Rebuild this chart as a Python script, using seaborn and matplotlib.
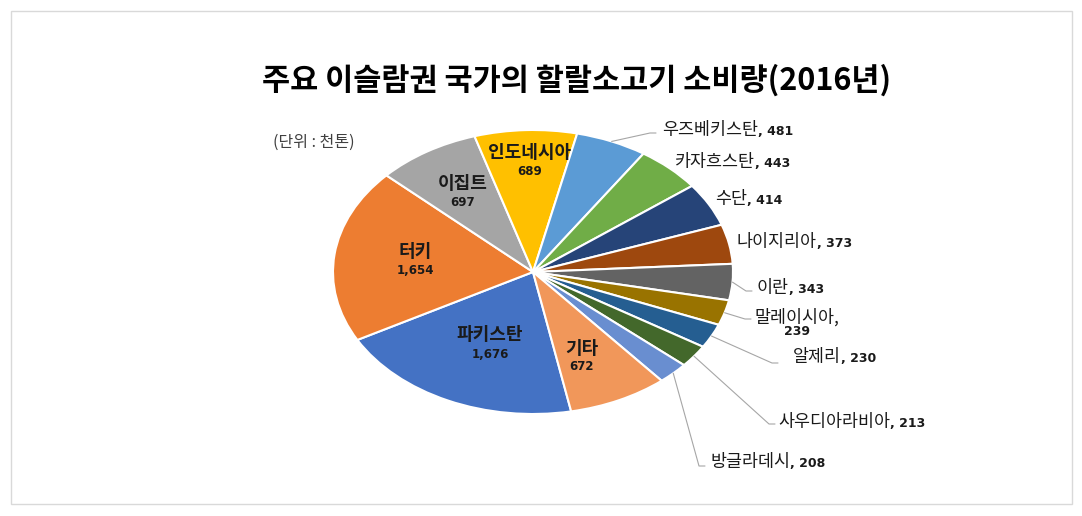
import matplotlib
matplotlib.use("Agg")
import matplotlib.pyplot as plt
import seaborn as sns
import numpy as np
from matplotlib.patches import Rectangle

# ---------------- data ----------------
countries = ["파키스탄", "터키", "이집트", "인도네시아", "우즈베키스탄", "카자흐스탄", "수단",
             "나이지리아", "이란", "말레이시아", "알제리", "사우디아라비아", "방글라데시", "기타"]
consumption = [1676, 1654, 697, 689, 481, 443, 414, 373, 343, 239, 230, 213, 208, 672]
title = "주요 이슬람권 국가의 할랄소고기 소비량(2016년)"
unit_note = "(단위 : 천톤)"

# ---------------- style ----------------
colors = ["#4472C4", "#ED7D31", "#A5A5A5", "#FFC000", "#5B9BD5", "#70AD47", "#264478",
          "#9E480E", "#636363", "#997300", "#255E91", "#43682B", "#698ED0", "#F1975A"]

sns.set_theme(style="white")
plt.rcParams['font.family'] = ['Noto Sans CJK KR', 'DejaVu Sans']

W, H = 1082, 516
fig = plt.figure(figsize=(W / 100, H / 100), dpi=100)
fig.patch.set_facecolor('white')
ax = fig.add_axes([0, 0, 1, 1])

# pie ellipse geometry in pixels
CX, CY, RX, RY = 533, 272, 200, 142


def P(px, py):
    return ((px - CX) / RX, (CY - py) / RY)


wedges, _ = ax.pie(consumption, colors=colors, startangle=-79, counterclock=False,
                   wedgeprops=dict(edgecolor='white', linewidth=1.5))
ax.set_aspect('auto')
ax.set_xlim(-CX / RX, (W - CX) / RX)
ax.set_ylim((CY - H) / RY, CY / RY)
ax.axis('off')

TXT = '#1a1a1a'
LINE = '#a6a6a6'

# inside labels: name centre positions (px)
inside_pos = {
    "인도네시아": (530, 153),
    "이집트": (463, 184),
    "터키": (415, 252),
    "파키스탄": (490, 335),
    "기타": (582, 348),
}
# outside labels: left x, centre y, leader end (px) or None
outside_pos = {
    "우즈베키스탄": (662, 130, (656, 133)),
    "카자흐스탄": (675, 162, None),
    "수단": (715, 199, None),
    "나이지리아": (737, 242, None),
    "이란": (757, 288, (752, 291)),
    "말레이시아": (755, 317, (751, 319)),
    "알제리": (793, 357, (778, 363)),
    "사우디아라비아": (778, 422, (775, 424)),
    "방글라데시": (710, 462, (705, 466)),
}

for name, val, w in zip(countries, consumption, wedges):
    vstr = f"{val:,}"
    if name in inside_pos:
        px, py = inside_pos[name]
        ax.text(*P(px, py), name, ha='center', va='center', fontsize=13,
                fontweight='bold', color=TXT)
        ax.text(*P(px, py + 19), vstr, ha='center', va='center', fontsize=8.5,
                fontweight='bold', family='DejaVu Sans', color=TXT)
    else:
        lx, ly, lend = outside_pos[name]
        label = name + "," if name == "말레이시아" else name
        t = ax.text(*P(lx, ly), label, ha='left', va='center', fontsize=12.5,
                    color=TXT)
        if name == "말레이시아":
            ax.annotate(vstr, xy=(0.5, 0), xycoords=t, xytext=(0, 1),
                        textcoords='offset points', ha='center', va='top',
                        fontsize=9, fontweight='bold', family='DejaVu Sans', color=TXT)
        else:
            ax.annotate(", " + vstr, xy=(1, 0.42), xycoords=t, ha='left', va='center',
                        fontsize=9, fontweight='bold', family='DejaVu Sans', color=TXT)
        if lend is not None:
            mid = np.deg2rad((w.theta1 + w.theta2) / 2)
            sx, sy = np.cos(mid), np.sin(mid)
            ex, ey = P(*lend)
            bx, by = P(lend[0] - 6, lend[1])
            ax.plot([sx, bx, ex], [sy, by, ey], color=LINE, lw=0.8, clip_on=False)

fig.text(577 / W, 1 - 80 / H, title, ha='center', va='center', fontsize=22,
         fontweight='bold', color='black')
fig.text(273 / W, 1 - 142 / H, unit_note, ha='left', va='center', fontsize=11.5,
         color='#404040')

fig.patches.append(Rectangle((11 / W, 12 / H), (1072 - 11) / W, (504 - 11) / H,
                             transform=fig.transFigure, fill=False,
                             edgecolor='#d9d9d9', linewidth=1))

fig.savefig('out.png', dpi=100, facecolor='white')
